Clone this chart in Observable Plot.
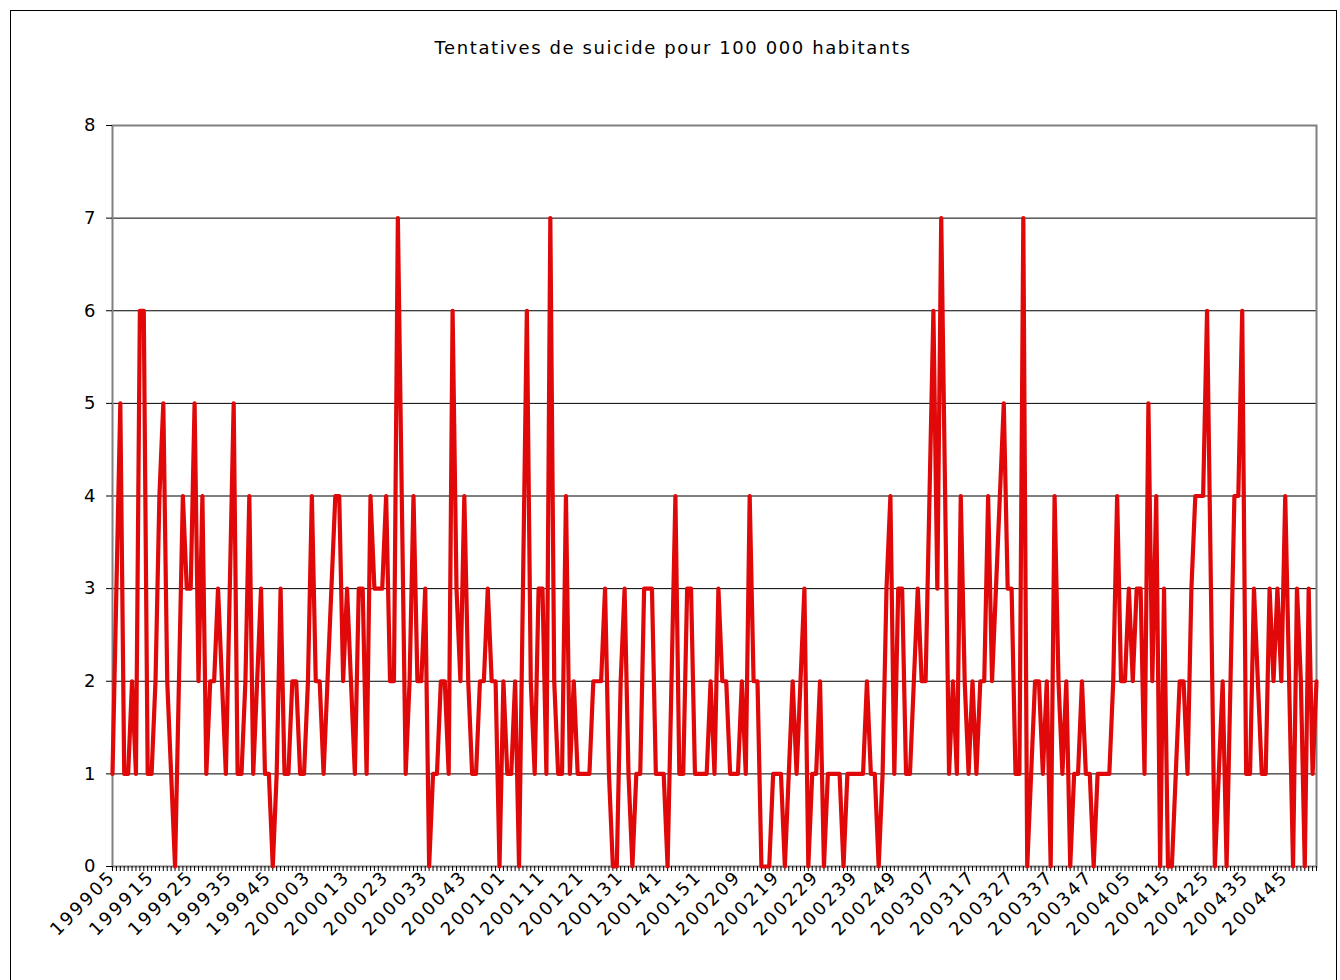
<!DOCTYPE html>
<html>
<head>
<meta charset="utf-8">
<script src="https://cdn.jsdelivr.net/npm/d3@7"></script>
<script src="https://cdn.jsdelivr.net/npm/@observablehq/plot@0.6"></script>
<style>
  html, body { margin: 0; padding: 0; background: #fff; overflow: hidden; }
  #wrap { position: relative; width: 1340px; height: 980px; }
  #border { position: absolute; left: 10px; top: 10px; width: 1327px; height: 1000px; border: 1px solid #000; box-sizing: border-box; }
  #title { position: absolute; left: 0; top: 37px; width: 1346px; text-align: center; font-family: "DejaVu Sans", Verdana, sans-serif; font-size: 18px; letter-spacing: 1.6px; color: #000; }
  #chart { position: absolute; left: 0; top: 0; }
  #chart g[aria-label="x-axis tick label"] text { letter-spacing: 2.5px; }
</style>
</head>
<body>
<div id="wrap">
  <div id="border"></div>
  <div id="title">Tentatives de suicide pour 100 000 habitants</div>
  <div id="chart"></div>
</div>
<script>
// Weekly values (year + ISO week), from 1999 week 05 to 2004 week 53
const weeksPerYear = [["1999", 5, 52], ["2000", 1, 52], ["2001", 1, 52], ["2002", 1, 52], ["2003", 1, 52], ["2004", 1, 53]];
const weeks = [];
for (const [yr, from, to] of weeksPerYear) for (let w = from; w <= to; w++) weeks.push(yr + String(w).padStart(2, "0"));

const values = [
  1,3,5,1,1,2,1,6,6,1, 1,2,4,5,2,1,0,2,4,3, 3,5,2,4,1,2,2,3,2,1,
  3,5,1,1,2,4,1,2,3,1, 1,0,1,3,1,1,2,2,1,1, 2,4,2,2,1,2,3,4,4,2,
  3,2,1,3,3,1,4,3,3,3, 4,2,2,7,4,1,2,4,2,2, 3,0,1,1,2,2,1,6,3,2,
  4,2,1,1,2,2,3,2,2,0, 2,1,1,2,0,3,6,2,1,3, 3,1,7,2,1,1,4,1,2,1,
  1,1,1,2,2,2,3,1,0,0, 2,3,1,0,1,1,3,3,3,1, 1,1,0,2,4,1,1,3,3,1,
  1,1,1,2,1,3,2,2,1,1, 1,2,1,4,2,2,0,0,0,1, 1,1,0,1,2,1,2,3,0,1,
  1,2,0,1,1,1,1,0,1,1, 1,1,1,2,1,1,0,1,3,4, 1,3,3,1,1,2,3,2,2,4,
  6,3,7,4,1,2,1,4,2,1, 2,1,2,2,4,2,3,4,5,3, 3,1,1,7,0,1,2,2,1,2,
  0,4,2,1,2,0,1,1,2,1, 1,0,1,1,1,1,2,4,2,2, 3,2,3,3,1,5,2,4,0,3,
  0,0,1,2,2,1,3,4,4,4, 6,3,0,1,2,0,2,4,4,6, 1,1,3,2,1,1,3,2,3,2,
  4,2,0,3,2,0,3,1,2
];
const yTicks = [0, 1, 2, 3, 4, 5, 6, 7, 8];
const labelEvery = 10;

const data = values.map((v, i) => ({i, week: weeks[i], v}));
const allIdx = d3.range(values.length);

const font = '"DejaVu Sans", Verdana, sans-serif';

const chart = Plot.plot({
  width: 1340,
  height: 980,
  marginLeft: 112,
  marginRight: 24,
  marginTop: 125,
  marginBottom: 114,
  style: {fontFamily: font, background: "transparent", color: "#000", overflow: "visible"},
  x: {type: "linear", domain: [0, values.length - 1]},
  y: {domain: [0, 8]},
  marks: [
    Plot.gridY(yTicks.slice(1, -1), {stroke: "#000", strokeOpacity: 1, strokeWidth: 1}),
    Plot.frame({stroke: "#808080", strokeWidth: 2}),
    Plot.axisY(yTicks, {tickSize: 6, tickPadding: 11, fontSize: 18, tickFormat: d => String(d), label: null, stroke: "#000"}),
    Plot.axisX(allIdx, {
      tickSize: 5,
      tickPadding: 2,
      tickRotate: -45,
      fontSize: 18,
      label: null,
      tickFormat: d => (d % labelEvery === 0 ? weeks[d] : "")
    }),
    Plot.line(data, {x: "i", y: "v", stroke: "#E00808", strokeWidth: 4.2, strokeLinejoin: "round", strokeLinecap: "round"})
  ]
});
document.getElementById("chart").appendChild(chart);
</script>
</body>
</html>
